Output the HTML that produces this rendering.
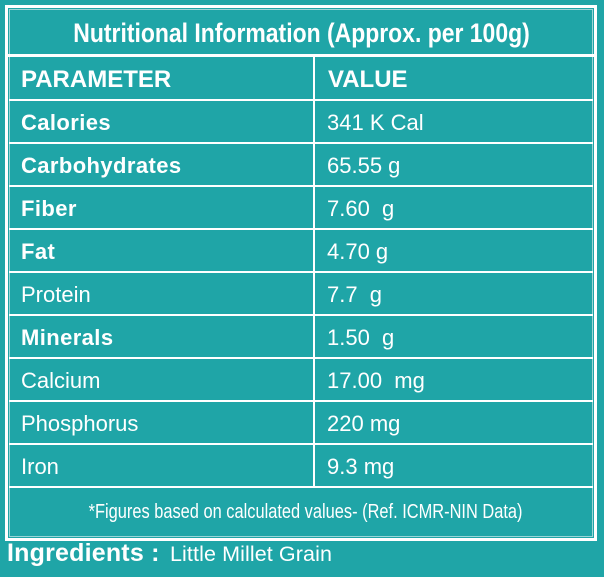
<!DOCTYPE html>
<html>
<head>
<meta charset="utf-8">
<style>
  html, body { margin:0; padding:0; }
  body { width:604px; height:577px; background:#1fa5a7; position:relative; overflow:hidden; font-family:"Liberation Sans", Arial, sans-serif; color:#fff; }
  .abs { position:absolute; }
  .w { background:#fff; position:absolute; }
  .t { position:absolute; white-space:nowrap; }
  .b { font-weight:bold; }
  .r22 { font-size:22px; line-height:22px; }
  .b22 { font-size:22px; line-height:22px; font-weight:bold; letter-spacing:0.4px; }
</style>
</head>
<body>
  <!-- outer frame -->
  <div class="abs" style="left:5px;top:5px;width:586px;height:530px;border:3px solid #fff;"></div>
  <!-- inner thin frame -->
  <div class="abs" style="left:9px;top:9px;width:582px;height:526px;border:1px solid rgba(255,255,255,0.55);"></div>

  <!-- title bottom line -->
  <div class="w" style="left:8px;top:54px;width:586px;height:3px;"></div>

  <!-- row lines -->
  <div class="w" style="left:9px;top:99px;width:584px;height:2px;"></div>
  <div class="w" style="left:9px;top:142px;width:584px;height:2px;"></div>
  <div class="w" style="left:9px;top:185px;width:584px;height:2px;"></div>
  <div class="w" style="left:9px;top:228px;width:584px;height:2px;"></div>
  <div class="w" style="left:9px;top:271px;width:584px;height:2px;"></div>
  <div class="w" style="left:9px;top:314px;width:584px;height:2px;"></div>
  <div class="w" style="left:9px;top:357px;width:584px;height:2px;"></div>
  <div class="w" style="left:9px;top:400px;width:584px;height:2px;"></div>
  <div class="w" style="left:9px;top:443px;width:584px;height:2px;"></div>
  <div class="w" style="left:9px;top:486px;width:584px;height:2px;"></div>

  <!-- column divider -->
  <div class="w" style="left:313px;top:56px;width:2px;height:431px;"></div>

  <!-- title -->
  <div class="t b" style="left:0;width:604px;top:20px;font-size:27px;line-height:27px;text-align:center;">
    <span style="display:inline-block;transform:scaleX(0.85);transform-origin:center;">Nutritional Information (Approx. per 100g)</span>
  </div>

  <!-- header -->
  <div class="t b" style="left:21px;top:68px;font-size:24px;line-height:24px;">PARAMETER</div>
  <div class="t b" style="left:328px;top:68px;font-size:24px;line-height:24px;">VALUE</div>

  <!-- rows -->
  <div class="t b22" style="left:21px;top:112px;">Calories</div>
  <div class="t r22" style="left:327px;top:112px;">341 K Cal</div>

  <div class="t b22" style="left:21px;top:155px;">Carbohydrates</div>
  <div class="t r22" style="left:327px;top:155px;">65.55 g</div>

  <div class="t b22" style="left:21px;top:198px;">Fiber</div>
  <div class="t r22" style="left:327px;top:198px;white-space:pre;">7.60  g</div>

  <div class="t b22" style="left:21px;top:241px;">Fat</div>
  <div class="t r22" style="left:327px;top:241px;">4.70 g</div>

  <div class="t r22" style="left:21px;top:284px;">Protein</div>
  <div class="t r22" style="left:327px;top:284px;white-space:pre;">7.7  g</div>

  <div class="t b22" style="left:21px;top:327px;">Minerals</div>
  <div class="t r22" style="left:327px;top:327px;white-space:pre;">1.50  g</div>

  <div class="t r22" style="left:21px;top:370px;">Calcium</div>
  <div class="t r22" style="left:327px;top:370px;white-space:pre;">17.00  mg</div>

  <div class="t r22" style="left:21px;top:413px;">Phosphorus</div>
  <div class="t r22" style="left:327px;top:413px;">220 mg</div>

  <div class="t r22" style="left:21px;top:456px;">Iron</div>
  <div class="t r22" style="left:327px;top:456px;">9.3 mg</div>

  <!-- footer -->
  <div class="t" style="left:4px;width:604px;top:502px;font-size:20px;line-height:20px;text-align:center;">
    <span style="display:inline-block;transform:scaleX(0.82);transform-origin:center;">*Figures based on calculated values- (Ref. ICMR-NIN Data)</span>
  </div>

  <!-- ingredients -->
  <div class="t" style="left:7px;top:541px;font-size:25px;line-height:25px;font-weight:bold;letter-spacing:0.2px;">Ingredients :</div>
  <div class="t" style="left:170px;top:544px;font-size:21.5px;line-height:21.5px;letter-spacing:0.1px;">Little Millet Grain</div>
</body>
</html>
